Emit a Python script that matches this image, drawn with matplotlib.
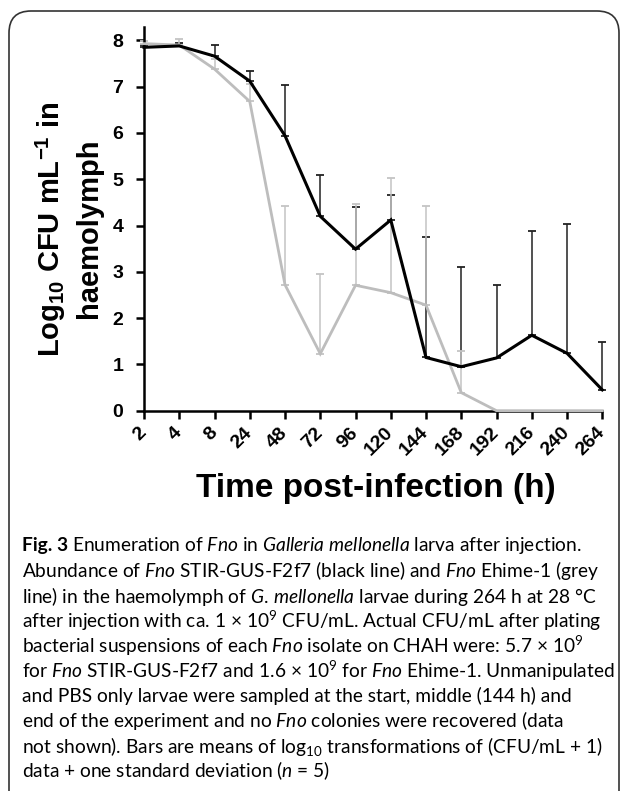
import matplotlib
matplotlib.use("Agg")
import matplotlib.pyplot as plt
from matplotlib.patches import FancyBboxPatch
from matplotlib.transforms import IdentityTransform
import numpy as np

# hours sampled (categorical axis)
hours = ["2", "4", "8", "24", "48", "72", "96", "120", "144", "168", "192", "216", "240", "264"]

# Fno STIR-GUS-F2f7 (black line): mean and mean + 1 SD
black_mean = [7.85, 7.88, 7.66, 7.12, 5.94, 4.20, 3.49, 4.12, 1.15, 0.95, 1.14, 1.63, 1.24, 0.45]
black_top = [7.90, 7.95, 7.89, 7.33, 7.03, 5.10, 4.41, 4.66, 3.76, 3.10, 2.71, 3.89, 4.03, 1.48]

# Fno Ehime-1 (grey line)
grey_mean = [7.93, 7.90, 7.38, 6.68, 2.72, 1.23, 2.71, 2.55, 2.28, 0.39, 0.0, 0.0, 0.0, 0.0]
grey_top = [7.98, 8.03, 7.60, 7.05, 4.42, 2.96, 4.46, 5.02, 4.42, 1.29, 0.0, 0.0, 0.0, 0.0]

caption = [
    r"Enumeration of $\mathit{Fno}$ in $\mathit{Galleria\ mellonella}$ larva after injection.",
    r"Abundance of $\mathit{Fno}$ STIR-GUS-F2f7 (black line) and $\mathit{Fno}$ Ehime-1 (grey",
    r"line) in the haemolymph of $\mathit{G.\,mellonella}$ larvae during 264 h at 28 °C",
    r"after injection with ca. 1 × 10$^{9}$ CFU/mL. Actual CFU/mL after plating",
    r"bacterial suspensions of each $\mathit{Fno}$ isolate on CHAH were: 5.7 × 10$^{9}$",
    r"for $\mathit{Fno}$ STIR-GUS-F2f7 and 1.6 × 10$^{9}$ for $\mathit{Fno}$ Ehime-1. Unmanipulated",
    r"and PBS only larvae were sampled at the start, middle (144 h) and",
    r"end of the experiment and no $\mathit{Fno}$ colonies were recovered (data",
    r"not shown). Bars are means of log$_{10}$ transformations of (CFU/mL + 1)",
    r"data + one standard deviation ($\mathit{n}$ = 5)",
]

plt.rcParams["mathtext.fontset"] = "custom"
plt.rcParams["mathtext.rm"] = "Lato"
plt.rcParams["mathtext.it"] = "Lato:italic"
plt.rcParams["mathtext.bf"] = "Liberation Sans:bold"

W, H = 625, 791
fig = plt.figure(figsize=(W / 100, H / 100), dpi=100)
ax = fig.add_axes([144 / W, 1 - 410.7 / H, (602.3 - 144) / W, (410.7 - 26.5) / H])

x = np.arange(len(hours))
bm, bt = np.array(black_mean), np.array(black_top)
gm, gt = np.array(grey_mean), np.array(grey_top)

keep = bt > bm
ax.errorbar(x[keep], bm[keep], yerr=[np.zeros(keep.sum()), (bt - bm)[keep]], fmt="none",
            ecolor="#222222", elinewidth=1.1, capsize=3, capthick=1.3, zorder=2, clip_on=False)
keep = gt > gm
ax.errorbar(x[keep], gm[keep], yerr=[np.zeros(keep.sum()), (gt - gm)[keep]], fmt="none",
            ecolor="#c4c4c4", elinewidth=1.1, capsize=3, capthick=1.3, zorder=3, clip_on=False)
ax.plot(x, gm, color="#bdbdbd", lw=2.0, zorder=7, clip_on=False, solid_joinstyle="miter")
ax.plot(x, bm, color="black", lw=2.2, zorder=8, clip_on=False, solid_joinstyle="miter")

ax.set_xlim(0, len(hours) - 1)
ax.set_ylim(0, 8.3)
ax.set_yticks(range(9))
ax.set_xticks(x)
ax.set_xticklabels(hours, rotation=45, ha="right", va="center", rotation_mode="anchor")
for s in ["top", "right"]:
    ax.spines[s].set_visible(False)
for s in ["left", "bottom"]:
    ax.spines[s].set_linewidth(1.8)
    ax.spines[s].set_zorder(6)
ax.tick_params(axis="y", direction="out", length=6, width=1.8, pad=9)
ax.tick_params(axis="x", direction="out", length=6, width=1.8, pad=8)
for lab in ax.get_xticklabels() + ax.get_yticklabels():
    lab.set_fontfamily("Liberation Sans")
    lab.set_fontweight("bold")
    lab.set_fontsize(14)

fig.text(376 / W, 1 - 489 / H, "Time post-infection (h)", ha="center", va="center",
         fontsize=24, fontweight="bold", family="Liberation Sans")
fig.text(51 / W, 1 - 229 / H, r"Log$_{\mathbf{10}}$ CFU mL$^{\mathbf{-1}}$ in", rotation=90,
         ha="center", va="center", fontsize=21, fontweight="bold", family="Liberation Sans")
fig.text(89 / W, 1 - 228 / H, "haemolymph", rotation=90,
         ha="center", va="center", fontsize=21, fontweight="bold", family="Liberation Sans")

# rounded frame around the figure panel
frame = FancyBboxPatch((9, -40), 610, H - 11 + 40, boxstyle="round,pad=0,rounding_size=22",
                       transform=IdentityTransform(), fill=False, ec="#333333", lw=1.2)
fig.patches.append(frame)

# caption, sized so the fourth line matches its width in the panel
renderer = fig.canvas.get_renderer()
probe = fig.text(0, 0, caption[3], fontsize=10, family="Lato")
w10 = probe.get_window_extent(renderer).width
probe.remove()
fs = 10 * 582 / w10

x0 = 22 / W
y0 = 546
step = 25.0
bold = fig.text(x0, 1 - y0 / H, "Fig. 3", fontsize=fs, family="Lato", fontweight="bold", va="center")
bw = bold.get_window_extent(renderer).width
fig.text(x0 + (bw + fs * 0.3) / W, 1 - y0 / H, caption[0], fontsize=fs, family="Lato", va="center")
for i, line in enumerate(caption[1:], start=1):
    fig.text(x0, 1 - (y0 + i * step) / H, line, fontsize=fs, family="Lato", va="center")

fig.savefig("out.png", dpi=100)
